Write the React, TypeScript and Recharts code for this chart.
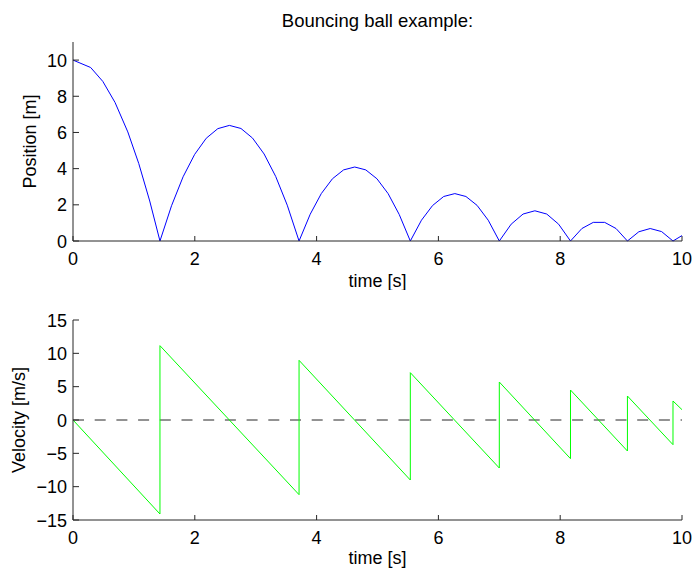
import React from "react";
import {
  LineChart,
  Line,
  XAxis,
  YAxis,
  ReferenceLine,
  Label,
} from "recharts";

// sample times and heights of the bouncing ball
const posTime = [
  0, 0.29, 0.49, 0.69, 0.9, 1.08, 1.26, 1.428,
  1.618, 1.808, 1.998, 2.188, 2.378, 2.568, 2.758, 2.948, 3.138, 3.328, 3.518, 3.712,
  3.895, 4.077, 4.26, 4.443, 4.626, 4.808, 4.991, 5.174, 5.356, 5.539,
  5.722, 5.904, 6.087, 6.27, 6.452, 6.635, 6.818, 7.0,
  7.195, 7.39, 7.584, 7.779, 7.974, 8.169,
  8.356, 8.543, 8.73, 8.917, 9.104,
  9.291, 9.478, 9.665, 9.852,
  10,
];
const posValue = [
  10, 9.59, 8.82, 7.66, 6.03, 4.28, 2.21, 0,
  1.95, 3.55, 4.79, 5.68, 6.21, 6.39, 6.22, 5.69, 4.81, 3.57, 1.98, 0,
  1.48, 2.62, 3.44, 3.93, 4.09, 3.93, 3.44, 2.62, 1.47, 0,
  1.15, 1.96, 2.46, 2.62, 2.46, 1.97, 1.15, 0,
  0.93, 1.49, 1.67, 1.49, 0.93, 0,
  0.69, 1.03, 1.03, 0.69, 0,
  0.51, 0.69, 0.52, 0,
  0.3,
];

// velocity: straight segments with a jump at each bounce
const velTime = [0, 1.428, 1.428, 3.712, 3.712, 5.539, 5.539, 7.0, 7.0, 8.169, 8.169, 9.104, 9.104, 9.852, 9.852, 10];
const velValue = [0, -14.1, 11.15, -11.2, 8.95, -9.0, 7.1, -7.2, 5.7, -5.8, 4.5, -4.65, 3.6, -3.7, 2.85, 1.55];

const timeTicks = [0, 2, 4, 6, 8, 10];
const posTicks = [0, 2, 4, 6, 8, 10];
const velTicks = [-15, -10, -5, 0, 5, 10, 15];

const posData = posTime.map((t, i) => ({ t, y: posValue[i] }));
const velData = velTime.map((t, i) => ({ t, v: velValue[i] }));

const FONT = "'Liberation Sans', Arial, Helvetica, sans-serif";
const AXIS = "#262626";
const FS = 18;

const fmt = (v: number) => (v < 0 ? "\u2212" + Math.abs(v) : String(v));

const XTick = (props: any) => {
  const { x, y, payload } = props;
  return (
    <g>
      <line x1={x} y1={y} x2={x} y2={y - 5} stroke={AXIS} />
      <text x={x} y={y + 24} textAnchor="middle" fill="#000" fontSize={FS} fontFamily={FONT}>
        {fmt(payload.value)}
      </text>
    </g>
  );
};

const YTick = (props: any) => {
  const { x, y, payload } = props;
  return (
    <g>
      <line x1={x} y1={y} x2={x + 6} y2={y} stroke={AXIS} />
      <text x={x - 6} y={y + 6.5} textAnchor="end" fill="#000" fontSize={FS} fontFamily={FONT}>
        {fmt(payload.value)}
      </text>
    </g>
  );
};

const xLabel = (dy: number) => (props: any) => {
  const vb = props.viewBox;
  return (
    <text x={vb.x + vb.width / 2} y={vb.y + dy} textAnchor="middle" fill="#000" fontSize={FS} fontFamily={FONT}>
      time [s]
    </text>
  );
};

const yLabel = (text: string, bx: number) => (props: any) => {
  const vb = props.viewBox;
  const cy = vb.y + vb.height / 2;
  return (
    <text
      x={bx}
      y={cy}
      transform={`rotate(-90, ${bx}, ${cy})`}
      textAnchor="middle"
      fill="#000"
      fontSize={FS}
      fontFamily={FONT}
    >
      {text}
    </text>
  );
};

const App: React.FC = () => {
  return (
    <div style={{ position: "absolute", left: 0, top: 0, width: 694, height: 568, background: "#fff", fontFamily: FONT }}>
      <div
        style={{
          position: "absolute",
          left: 73,
          top: 10,
          width: 609,
          textAlign: "center",
          fontSize: 18.5,
          color: "#000",
        }}
      >
        Bouncing ball example:
      </div>

      <div style={{ position: "absolute", left: 0, top: 0 }}>
        <LineChart width={694} height={290} data={posData} margin={{ top: 42, right: 12, left: 0, bottom: 0 }}>
          <XAxis
            dataKey="t"
            type="number"
            domain={[0, 10]}
            ticks={timeTicks}
            interval={0}
            height={49}
            tickSize={0}
            tickMargin={0}
            tickLine={false}
            axisLine={{ stroke: AXIS }}
            tick={<XTick />}
          >
            <Label content={xLabel(46)} />
          </XAxis>
          <YAxis
            type="number"
            domain={[0, 11]}
            ticks={posTicks}
            interval={0}
            width={73}
            tickSize={0}
            tickMargin={0}
            tickLine={false}
            axisLine={{ stroke: AXIS }}
            tick={<YTick />}
          >
            <Label content={yLabel("Position [m]", 36)} />
          </YAxis>
          <Line
            type="linear"
            dataKey="y"
            stroke="#0000ff"
            strokeWidth={1}
            dot={false}
            isAnimationActive={false}
          />
        </LineChart>
      </div>

      <div style={{ position: "absolute", left: 0, top: 280 }}>
        <LineChart width={694} height={288} data={velData} margin={{ top: 40, right: 12, left: 0, bottom: 0 }}>
          <XAxis
            dataKey="t"
            type="number"
            domain={[0, 10]}
            ticks={timeTicks}
            interval={0}
            height={48}
            tickSize={0}
            tickMargin={0}
            tickLine={false}
            axisLine={{ stroke: AXIS }}
            tick={<XTick />}
          >
            <Label content={xLabel(43.5)} />
          </XAxis>
          <YAxis
            type="number"
            domain={[-15, 15]}
            ticks={velTicks}
            interval={0}
            width={73}
            tickSize={0}
            tickMargin={0}
            tickLine={false}
            axisLine={{ stroke: AXIS }}
            tick={<YTick />}
          >
            <Label content={yLabel("Velocity [m/s]", 25)} />
          </YAxis>
          <ReferenceLine y={0} stroke="#262626" strokeDasharray="11 10.7" />
          <Line
            type="linear"
            dataKey="v"
            stroke="#00ff00"
            strokeWidth={1}
            dot={false}
            isAnimationActive={false}
          />
        </LineChart>
      </div>
    </div>
  );
};

export default App;
